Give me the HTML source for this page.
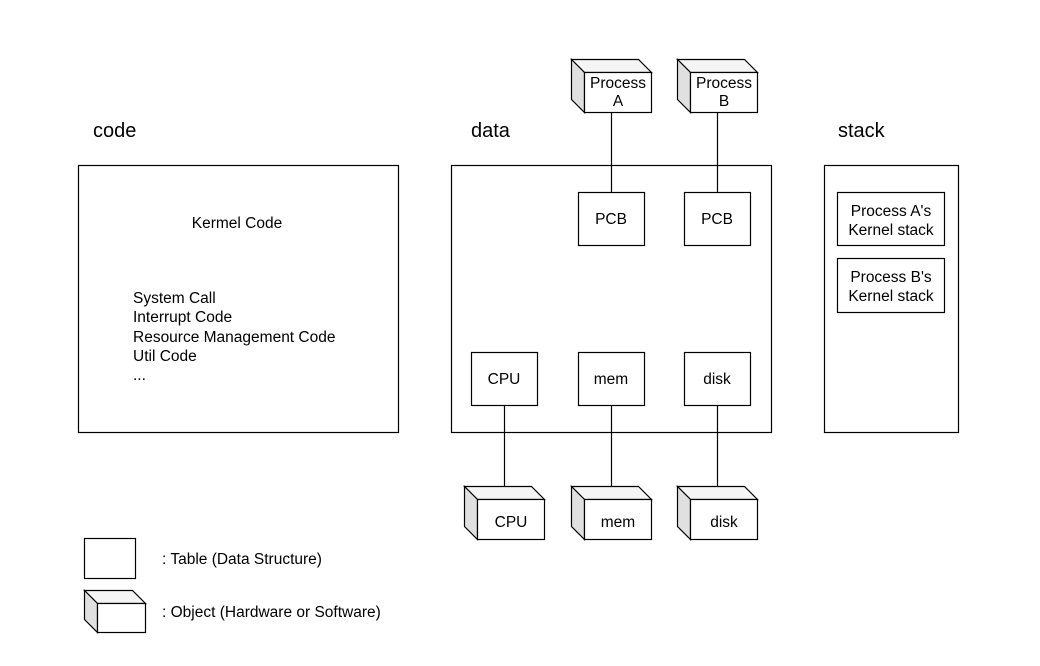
<!DOCTYPE html>
<html><head><meta charset="utf-8"><style>
html,body{margin:0;padding:0;background:#fff;}
svg{display:block;}
text{font-family:"Liberation Sans",Arial,sans-serif;fill:#000;}
</style></head><body>
<svg width="1040" height="666" viewBox="0 0 1040 666" xmlns="http://www.w3.org/2000/svg">
<defs>
<g id="cube">
  <path d="M0.5,0.5 L67.5,0.5 L80.5,13.5 L13.5,13.5 Z" fill="#f5f5f5" stroke="#000" stroke-width="1.2"/>
  <path d="M0.5,0.5 L13.5,13.5 L13.5,53.5 L0.5,40.5 Z" fill="#e0e0e0" stroke="#000" stroke-width="1.2"/>
  <rect x="13.5" y="13.5" width="67" height="40" fill="#fff" stroke="#000" stroke-width="1.2"/>
</g>
</defs>
<g font-size="20">
<text x="93" y="137">code</text>
<text x="471" y="137">data</text>
<text x="838" y="137">stack</text>
</g>
<g fill="#fff" stroke="#000" stroke-width="1.2">
<rect x="78.5" y="165.5" width="320" height="267"/>
<rect x="451.5" y="165.5" width="320" height="267"/>
<rect x="824.5" y="165.5" width="134" height="267"/>
</g>
<g stroke="#000" stroke-width="1.2">
<line x1="611.5" y1="112" x2="611.5" y2="192"/>
<line x1="717.5" y1="112" x2="717.5" y2="192"/>
<line x1="504.5" y1="405" x2="504.5" y2="486"/>
<line x1="611.5" y1="405" x2="611.5" y2="486"/>
<line x1="717.5" y1="405" x2="717.5" y2="486"/>
</g>
<g fill="#fff" stroke="#000" stroke-width="1.2">
<rect x="578.5" y="192.5" width="66" height="53"/>
<rect x="684.5" y="192.5" width="66" height="53"/>
<rect x="471.5" y="352.5" width="66" height="53"/>
<rect x="578.5" y="352.5" width="66" height="53"/>
<rect x="684.5" y="352.5" width="66" height="53"/>
<rect x="837.5" y="192.5" width="107" height="53"/>
<rect x="837.5" y="258.5" width="107" height="54"/>
<rect x="84.5" y="538.5" width="51" height="40"/>
</g>
<use href="#cube" x="571" y="59"/>
<use href="#cube" x="677" y="59"/>
<use href="#cube" x="464" y="486"/>
<use href="#cube" x="571" y="486"/>
<use href="#cube" x="677" y="486"/>
<g stroke="#000" stroke-width="1.2">
  <path d="M84.5,590.5 L132.5,590.5 L145.5,603.5 L97.5,603.5 Z" fill="#f5f5f5"/>
  <path d="M84.5,590.5 L97.5,603.5 L97.5,632.5 L84.5,619.5 Z" fill="#e0e0e0"/>
  <rect x="97.5" y="603.5" width="48" height="29" fill="#fff"/>
</g>
<g font-size="15.5" text-anchor="middle">
<text x="618" y="88">Process</text>
<text x="618" y="106">A</text>
<text x="724" y="88">Process</text>
<text x="724" y="106">B</text>
<text x="611" y="224">PCB</text>
<text x="717" y="224">PCB</text>
<text x="504" y="384">CPU</text>
<text x="611" y="384">mem</text>
<text x="717" y="384">disk</text>
<text x="511" y="527">CPU</text>
<text x="618" y="527">mem</text>
<text x="724" y="527">disk</text>
<text x="891" y="216">Process A's</text>
<text x="891" y="235">Kernel stack</text>
<text x="891" y="282">Process B's</text>
<text x="891" y="301">Kernel stack</text>
<text x="237" y="228">Kermel Code</text>
</g>
<g font-size="15.5">
<text x="133" y="303">System Call</text>
<text x="133" y="322">Interrupt Code</text>
<text x="133" y="342">Resource Management Code</text>
<text x="133" y="361">Util Code</text>
<text x="133" y="380">...</text>
<text x="162" y="564">: Table (Data Structure)</text>
<text x="162" y="617">: Object (Hardware or Software)</text>
</g>
</svg>
</body></html>
